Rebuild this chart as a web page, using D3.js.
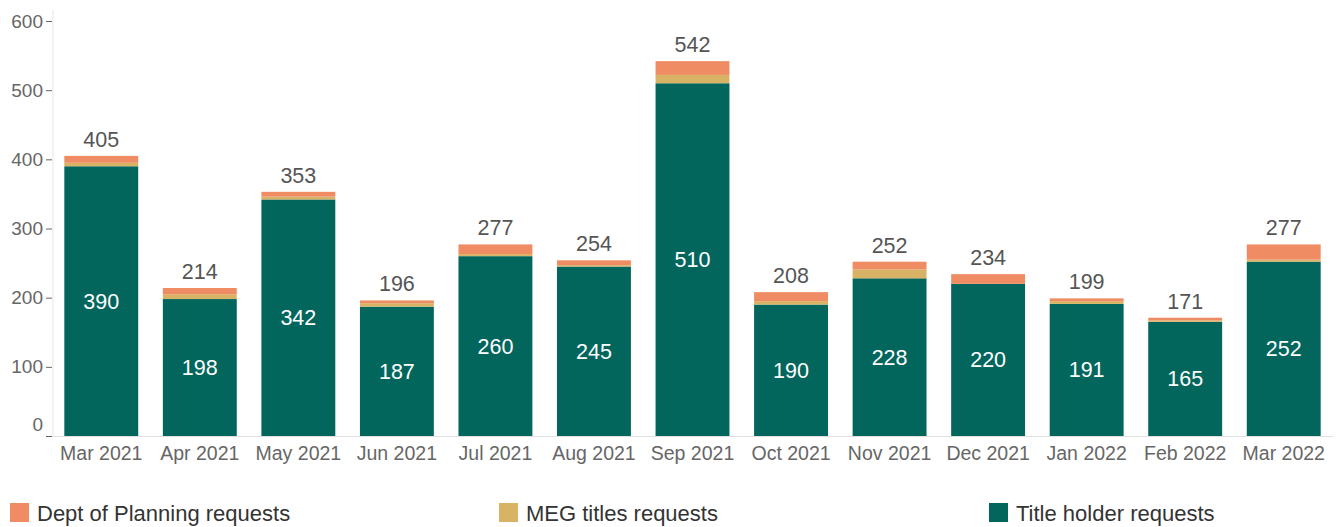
<!DOCTYPE html>
<html>
<head>
<meta charset="utf-8">
<script src="https://cdn.jsdelivr.net/npm/d3@7"></script>
<style>
  body { margin: 0; background: #fff; font-family: "Liberation Sans", Arial, sans-serif; }
  .axis text { fill: #666; font-size: 19px; }
</style>
</head>
<body>
<div id="viz"></div>
<script>
const months = ["Mar 2021", "Apr 2021", "May 2021", "Jun 2021", "Jul 2021", "Aug 2021", "Sep 2021",
    "Oct 2021", "Nov 2021", "Dec 2021", "Jan 2022", "Feb 2022", "Mar 2022"];
const titleHolder = [390, 198, 342, 187, 260, 245, 510, 190, 228, 220, 191, 165, 252];
const megTitles = [5, 7, 4, 5, 3, 2, 12, 5, 13, 0, 4, 2, 3];
const deptPlanning = [10, 9, 7, 4, 14, 7, 20, 13, 11, 14, 4, 4, 22];
const yTicks = [0, 100, 200, 300, 400, 500, 600];

const seriesNames = ["Title holder requests", "MEG titles requests", "Dept of Planning requests"];
const colors = {
    "Title holder requests": "#02665d",
    "MEG titles requests": "#d9b365",
    "Dept of Planning requests": "#ef8c63"
};

const width = 1338;
const height = 527;
const margin = {left: 52, right: 5, top: 21, bottom: 91};

const rows = months.map((m, i) => ({
    month: m,
    "Title holder requests": titleHolder[i],
    "MEG titles requests": megTitles[i],
    "Dept of Planning requests": deptPlanning[i],
    total: titleHolder[i] + megTitles[i] + deptPlanning[i]
}));

const svg = d3.select("#viz").append("svg")
    .attr("width", width)
    .attr("height", height);

const xScale = d3.scaleBand()
    .domain(months)
    .range([margin.left, width - margin.right])
    .paddingInner(0.25)
    .paddingOuter(0.125);

const yScale = d3.scaleLinear()
    .domain([0, 600])
    .range([height - margin.bottom, margin.top]);

// y axis
const yAxis = svg.append("g")
    .attr("class", "axis axis--y")
    .attr("transform", `translate(${margin.left},0)`)
    .call(d3.axisLeft(yScale).tickValues(yTicks).tickSize(6).tickPadding(3));
yAxis.select(".domain").remove();
yAxis.selectAll(".tick line").attr("stroke", "#666");
yAxis.selectAll(".tick text").filter(d => d === 0).attr("dy", "-0.3em");

svg.append("line")
    .attr("x1", margin.left + 1).attr("x2", margin.left + 1)
    .attr("y1", 10).attr("y2", yScale(0))
    .attr("stroke", "#e6e6e6");

// x axis
const xAxis = svg.append("g")
    .attr("class", "axis axis--x")
    .attr("transform", `translate(0,${yScale(0)})`)
    .call(d3.axisBottom(xScale).tickSize(0).tickPadding(10));
xAxis.select(".domain").attr("stroke", "#e0e0e0");
xAxis.selectAll(".tick text").style("font-size", "19.5px");

const stacked = d3.stack().keys(seriesNames)(rows);

svg.selectAll(".series")
    .data(stacked)
    .join("g")
        .attr("class", "series")
        .attr("fill", d => colors[d.key])
    .selectAll("rect")
    .data(d => d)
    .join("rect")
        .attr("x", d => xScale(d.data.month))
        .attr("width", xScale.bandwidth())
        .attr("y", d => yScale(d[1]))
        .attr("height", d => yScale(d[0]) - yScale(d[1]));

// inner labels for title holder
svg.selectAll(".inner-label")
    .data(rows)
    .join("text")
        .attr("class", "inner-label")
        .attr("x", d => xScale(d.month) + xScale.bandwidth() / 2)
        .attr("y", d => (yScale(0) + yScale(d["Title holder requests"])) / 2)
        .attr("dy", "0.35em")
        .attr("text-anchor", "middle")
        .attr("fill", "#fff")
        .style("font-size", "21.5px")
        .text(d => d["Title holder requests"]);

// totals
svg.selectAll(".total-label")
    .data(rows)
    .join("text")
        .attr("class", "total-label")
        .attr("x", d => xScale(d.month) + xScale.bandwidth() / 2)
        .attr("y", d => yScale(d.total) - 9)
        .attr("text-anchor", "middle")
        .attr("fill", "#555")
        .style("font-size", "21.5px")
        .text(d => d.total);

// legend
const legendItems = [
    {name: "Dept of Planning requests", x: 10},
    {name: "MEG titles requests", x: 499},
    {name: "Title holder requests", x: 989}
];
const legend = svg.selectAll(".legend")
    .data(legendItems)
    .join("g")
        .attr("class", "legend")
        .attr("transform", d => `translate(${d.x},503)`);
legend.append("rect")
    .attr("width", 19).attr("height", 19)
    .attr("fill", d => colors[d.name]);
legend.append("text")
    .attr("x", 27).attr("y", 10)
    .attr("dy", "0.35em")
    .attr("fill", "#333")
    .style("font-size", "22px")
    .text(d => d.name);
</script>
</body>
</html>
